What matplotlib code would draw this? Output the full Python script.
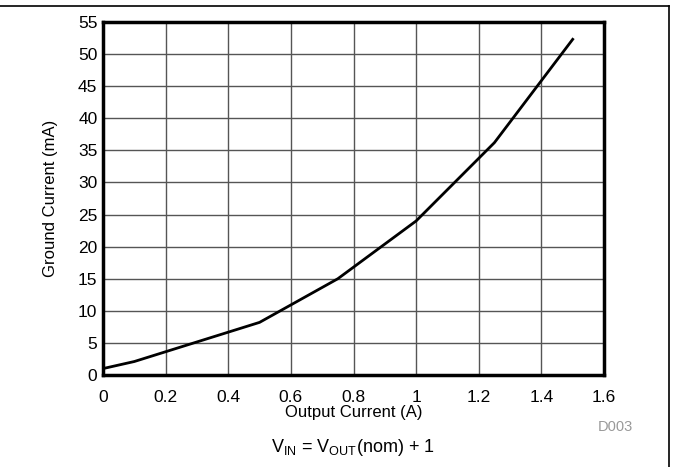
import matplotlib
matplotlib.use('Agg')
import matplotlib.pyplot as plt
from matplotlib.lines import Line2D

plt.rcParams['font.family'] = ['Liberation Sans', 'DejaVu Sans']

# datos
corriente_salida = [0.0, 0.1, 0.5, 0.75, 1.0, 1.25, 1.5]
corriente_tierra = [1.0, 2.1, 8.2, 15.0, 24.0, 36.2, 52.3]

x_ticks = [0, 0.2, 0.4, 0.6, 0.8, 1, 1.2, 1.4, 1.6]
x_labels = ['0', '0.2', '0.4', '0.6', '0.8', '1', '1.2', '1.4', '1.6']
y_ticks = list(range(0, 56, 5))

fig = plt.figure(figsize=(6.73, 4.67), dpi=100)
ax = fig.add_axes([103/673, 1 - 375/467, 501/673, 353/467])

ax.plot(corriente_salida, corriente_tierra, color='black', linewidth=2)

ax.set_xlim(0, 1.6)
ax.set_ylim(0, 55)
ax.set_xticks(x_ticks)
ax.set_xticklabels(x_labels)
ax.set_yticks(y_ticks)
ax.tick_params(length=0, labelsize=12.5)
ax.tick_params(axis='x', pad=11)
ax.tick_params(axis='y', pad=4)
ax.grid(True, color='#555555', linewidth=1)
ax.set_axisbelow(True)
for s in ax.spines.values():
    s.set_linewidth(2.5)
    s.set_color('black')

ax.set_xlabel('Output Current (A)', fontsize=12, va='center')
ax.set_ylabel('Ground Current (mA)', fontsize=12, va='center')
ax.xaxis.set_label_coords(0.5, (375 - 412) / 353)
ax.yaxis.set_label_coords((50 - 103) / 501, 0.5)

fig.text(615/673, 1 - 427/467, 'D003', color='#999999', fontsize=10.5, ha='center', va='center')
fig.text(353/673, 1 - 447/467, r'V$_{\mathregular{IN}}$ = V$_{\mathregular{OUT}}$(nom) + 1',
         fontsize=13, ha='center', va='center')

# marco de la figura (arriba y derecha)
fig.add_artist(Line2D([0, 669/673], [1 - 6/467, 1 - 6/467], color='black', linewidth=1.2))
fig.add_artist(Line2D([669/673, 669/673], [1 - 6/467, 0], color='black', linewidth=1.2))

fig.savefig('out.png', dpi=100)
